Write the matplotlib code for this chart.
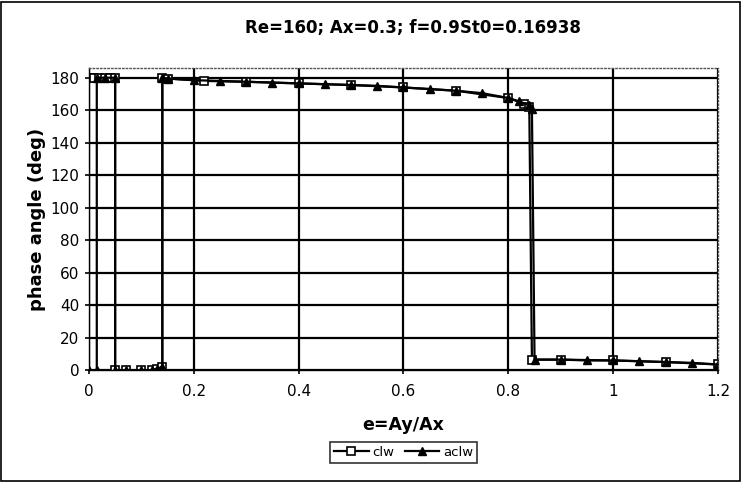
import matplotlib
matplotlib.use("Agg")
import matplotlib.pyplot as plt
from matplotlib.patches import Rectangle

# data
clw_e = [0.0, 0.01, 0.02, 0.03, 0.04, 0.05, 0.05, 0.07, 0.10, 0.12, 0.13, 0.14, 0.14,
         0.15, 0.22, 0.30, 0.40, 0.50, 0.60, 0.70, 0.80, 0.83, 0.84, 0.845,
         0.90, 1.00, 1.10, 1.20]
clw_ph = [180, 180, 180, 180, 180, 180, 0, 0, 0, 0, 1, 2, 180,
          179.5, 178, 177.5, 176.5, 175.5, 174, 172, 167.5, 164, 162, 6.5,
          6.5, 6, 5, 3.5]

aclw_e = [0.0, 0.015, 0.015, 0.03, 0.05, 0.05, 0.07, 0.10, 0.12, 0.13, 0.14, 0.14,
          0.15, 0.20, 0.25, 0.30, 0.35, 0.40, 0.45, 0.50, 0.55, 0.60, 0.65, 0.70,
          0.75, 0.80, 0.82, 0.84, 0.845, 0.85, 0.90, 0.95, 1.00, 1.05, 1.10,
          1.15, 1.20]
aclw_ph = [0, 0, 180, 180, 180, 0, 0, 0, 0, 1, 2, 180,
           179.5, 178.5, 178, 177.5, 177, 176.5, 176, 175.5, 175, 174, 173, 172,
           170.5, 167.5, 165.5, 163, 161, 6.5, 6.5, 6, 6, 5.5, 5, 4.5, 3.5]

x_ticks = [0, 0.2, 0.4, 0.6, 0.8, 1.0, 1.2]
x_labels = ["0", "0.2", "0.4", "0.6", "0.8", "1", "1.2"]
y_ticks = list(range(0, 181, 20))

plt.rcParams["font.family"] = ["DejaVu Sans"]

fig = plt.figure(figsize=(7.41, 4.82), dpi=100)
ax = fig.add_axes([0.120, 0.232, 0.849, 0.627])

ax.plot(clw_e, clw_ph, color="black", lw=1.6, marker="s", ms=6,
        mfc="white", mec="black", mew=1.2, label="clw")
ax.plot(aclw_e, aclw_ph, color="black", lw=1.6, marker="^", ms=6,
        mfc="black", mec="black", label="aclw")

ax.set_xlim(0, 1.2)
ax.set_ylim(0, 186)
ax.set_xticks(x_ticks)
ax.set_xticklabels(x_labels)
ax.set_yticks(y_ticks)
ax.grid(True, color="black", lw=1.6)
ax.set_axisbelow(True)
for s in ax.spines.values():
    s.set_color("#555555")
    s.set_linewidth(1.0)
    s.set_linestyle(":")
ax.spines["left"].set_linestyle("-")
ax.spines["left"].set_color("black")
ax.spines["bottom"].set_linestyle("-")
ax.spines["bottom"].set_color("black")
ax.tick_params(labelsize=11, length=3, width=1.2, direction="out", pad=4)
ax.tick_params(axis="x", pad=7)

ax.set_xlabel("e=Ay/Ax", fontsize=12.5, fontweight="bold", labelpad=12)
ax.set_ylabel("phase angle (deg)", fontsize=13, fontweight="bold", labelpad=3)
fig.text(0.557, 0.942, "Re=160; Ax=0.3; f=0.9St0=0.16938", ha="center", va="center",
         fontsize=12, fontweight="bold")

leg = fig.legend(loc="center", bbox_to_anchor=(0.545, 0.062), ncol=2, fontsize=9.5,
                 frameon=True, fancybox=False, edgecolor="black", handlelength=2.6,
                 handletextpad=0.3, columnspacing=0.8, borderpad=0.3)
leg.get_frame().set_linewidth(1.2)

fig.patches.append(Rectangle((0.002, 0.002), 0.996, 0.994, transform=fig.transFigure,
                             fill=False, edgecolor="black", lw=1.2))

fig.savefig("out.png", dpi=100)
